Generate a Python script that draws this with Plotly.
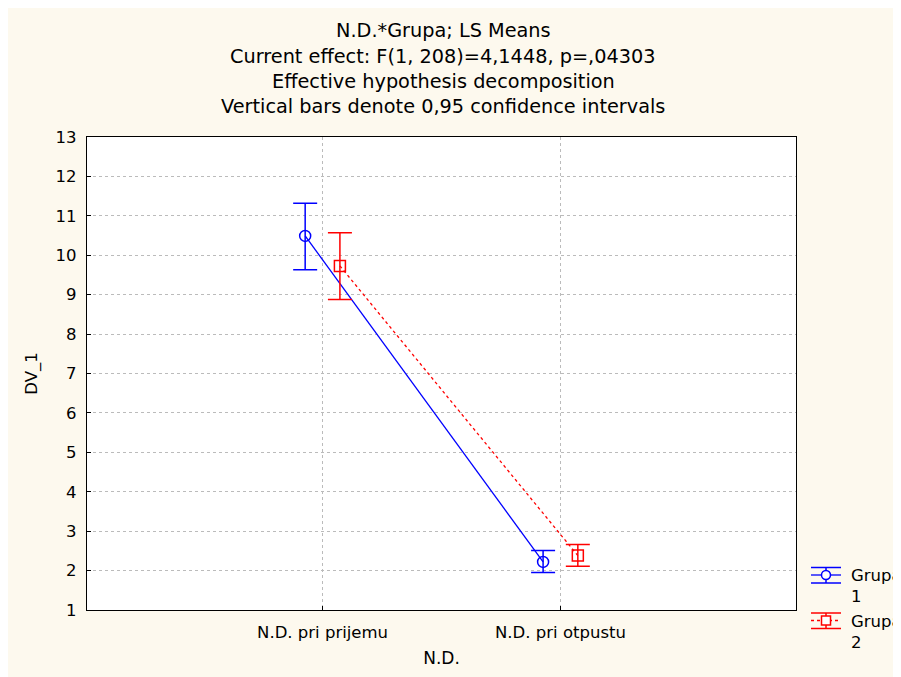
import plotly.graph_objects as go

categories = ["N.D. pri prijemu", "N.D. pri otpustu"]
group_names = ["Grupa<br>1", "Grupa<br>2"]
g1_mean = [10.49, 2.22]
g1_low = [9.63, 1.95]
g1_high = [11.32, 2.51]
g2_mean = [9.73, 2.38]
g2_low = [8.88, 2.11]
g2_high = [10.57, 2.66]
yticks = list(range(1, 14))
title_lines = [
    "N.D.*Grupa; LS Means",
    "Current effect: F(1, 208)=4,1448, p=,04303",
    "Effective hypothesis decomposition",
    "Vertical bars denote 0,95 confidence intervals",
]

FONT = "DejaVu Sans, Liberation Sans, Arial, sans-serif"
CREAM = "#FDF9EE"
BLUE = "#0000FF"
RED = "#FF0000"
offset = 0.073
xpos = list(range(len(categories)))

# image pixel -> paper coordinate helpers (plot area spans x 87..796, y 137..610 on the page)
def px(x):
    return (x - 87) / 709.0

def py(y):
    return (610 - y) / 473.0

fig = go.Figure()
series = [
    (g1_mean, g1_low, g1_high, -offset, BLUE, "solid", "circle-open"),
    (g2_mean, g2_low, g2_high, offset, RED, "dot", "square-open"),
]
for mean, low, high, off, col, dash, sym in series:
    fig.add_trace(go.Scatter(
        x=[p + off for p in xpos], y=mean,
        mode="lines+markers", showlegend=False,
        line=dict(color=col, width=1.3, dash=dash),
        marker=dict(symbol=sym, size=11, color=col, line=dict(width=1.5)),
        error_y=dict(type="data", symmetric=False,
                     array=[h - m for h, m in zip(high, mean)],
                     arrayminus=[m - l for m, l in zip(mean, low)],
                     color=col, thickness=1.5, width=12),
    ))

for i, t in enumerate(title_lines):
    fig.add_annotation(text=t, xref="paper", yref="paper",
                       x=px(443), y=py(31 + 25.3 * i),
                       showarrow=False, xanchor="center", yanchor="middle",
                       font=dict(family=FONT, size=19.3, color="black"))

# manual legend (symbol with error-bar caps, as in the original)
legend_rows = [(575, BLUE, "solid", "circle"), (620.5, RED, "dot", "square")]
for (yc, col, dash, shape), name in zip(legend_rows, group_names):
    x0, x1, xc = 811, 841, 826
    for dy in (-7.5, 8):
        fig.add_shape(type="line", xref="paper", yref="paper",
                      x0=px(x0), x1=px(x1), y0=py(yc + dy), y1=py(yc + dy),
                      line=dict(color=col, width=1.5))
    fig.add_shape(type="line", xref="paper", yref="paper",
                  x0=px(xc), x1=px(xc), y0=py(yc - 7.5), y1=py(yc + 8),
                  line=dict(color=col, width=1.5))
    fig.add_shape(type="line", xref="paper", yref="paper",
                  x0=px(x0), x1=px(x1), y0=py(yc), y1=py(yc),
                  line=dict(color=col, width=1.3, dash=dash))
    fig.add_shape(type=("circle" if shape == "circle" else "rect"), xref="paper", yref="paper",
                  x0=px(xc - 4.5), x1=px(xc + 4.5), y0=py(yc - 4.5), y1=py(yc + 4.5),
                  line=dict(color=col, width=1.5), fillcolor="white")
    fig.add_annotation(text=name, xref="paper", yref="paper",
                       x=px(849), y=py(yc - 11), xanchor="left", yanchor="top",
                       showarrow=False, align="left",
                       font=dict(family=FONT, size=16.5, color="black"))

fig.update_layout(
    width=893, height=669,
    margin=dict(l=79, r=105, t=129, b=67),
    paper_bgcolor=CREAM, plot_bgcolor="white",
    font=dict(family=FONT, size=16, color="black"),
    showlegend=False,
)
fig.update_xaxes(
    range=[-0.99, 1.99], tickvals=xpos, ticktext=categories,
    showgrid=True, gridcolor="#BBBBBB", griddash="dot", gridwidth=1,
    showline=True, linecolor="black", linewidth=1.3, mirror=True,
    ticks="inside", ticklen=4, tickcolor="black", zeroline=False,
    ticklabelstandoff=7,
    title=dict(text="N.D.", font=dict(family=FONT, size=17), standoff=11),
    tickfont=dict(family=FONT, size=16.5),
)
fig.update_yaxes(
    range=[1, 13], tickvals=yticks,
    showgrid=True, gridcolor="#BBBBBB", griddash="dot", gridwidth=1,
    showline=True, linecolor="black", linewidth=1.3, mirror=True,
    ticks="inside", ticklen=4, tickcolor="black", zeroline=False,
    ticklabelstandoff=6,
    title=dict(text="DV_1", font=dict(family=FONT, size=16.5), standoff=13),
    tickfont=dict(family=FONT, size=16.5),
)

fig.write_html("out.html")
